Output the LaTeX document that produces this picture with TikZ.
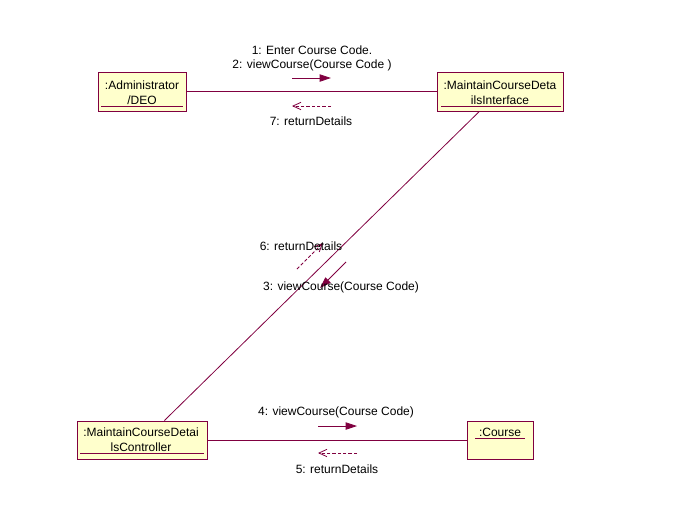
\documentclass[tikz,border=0pt]{standalone}
\usepackage{fontspec}
\setmainfont{Liberation Sans}
\usepackage{tikz}
\usetikzlibrary{arrows.meta}
\usetikzlibrary{positioning}
\definecolor{umlred}{HTML}{800040}
\definecolor{umlfill}{HTML}{FFFFCC}
\tikzset{
    object/.style={
           rectangle,
           draw=umlred, line width=0.75pt,
           fill=umlfill,
           inner sep=0pt,
           },
    objname/.style={
           align=center,
           inner sep=0pt,
           font=\fontsize{9}{11.25}\selectfont,
           },
    msglabel/.style={
           inner sep=0pt,
           font=\fontsize{9}{11}\selectfont,
           },
    link/.style={draw=umlred, line width=0.6pt},
    call/.style={draw=umlred, line width=0.6pt,
           -{Triangle[length=8.5pt,width=5.5pt]}},
    reply/.style={draw=umlred, line width=0.6pt,
           dash pattern=on 2.5pt off 1.5pt,
           -{Straight Barb[length=6pt,width=5.5pt]}},
}

\begin{document}
\begin{tikzpicture}[x=0.75pt, y=-0.75pt]
 \useasboundingbox (0,0) rectangle (673,525);

 % Objects of the collaboration (boxes first, names on top)
 \node[object, minimum width=66pt, minimum height=29.25pt] (ADM) at (142,91.5) {};
 \node[object, minimum width=94.5pt, minimum height=29.25pt] (INT) at (500,91.5) {};
 \node[object, minimum width=97.5pt, minimum height=28.5pt] (CTL) at (142,440) {};
 \node[object, minimum width=49.5pt, minimum height=28.5pt] (CRS) at (500,440) {};

 % names of the objects, underlined as in UML
 \node[objname] (ADMname) at (142,92.5) {:Administrator\\/DEO};
 \node[objname] (INTname) at (500,92.5) {:MaintainCourseDeta\\ilsInterface};
 \node[objname] (CTLname) at (141,439.5) {:MaintainCourseDetai\\lsController};
 \node[objname] (CRSname) at (500,432) {:Course};
 \draw[link] (101,106) -- (183,106);
 \draw[link] (441,106) -- (561,106);
 \draw[link] (80,453) -- (204,453);
 \draw[link] ([xshift=-2.5pt,yshift=-1.5pt]CRSname.south west)
          -- ([xshift=2.5pt,yshift=-1.5pt]CRSname.south east);

 % links between the objects
 \draw[link] (ADM) -- (INT);
 \draw[link] (CTL) -- (CRS);
 \draw[link] (INT.224) -- (CTL.41);

 % message arrows (free ends)
 \coordinate (m1a) at (292,78);   \coordinate (m1b) at (331,78);
 \coordinate (m7a) at (331,106);  \coordinate (m7b) at (292,106);
 \coordinate (m3a) at (346,262);  \coordinate (m3b) at (320,288);
 \coordinate (m6a) at (297,269);  \coordinate (m6b) at (323,243);
 \coordinate (m4a) at (318,426);  \coordinate (m4b) at (357,426);
 \coordinate (m5a) at (357,453);  \coordinate (m5b) at (318,453);
 \draw[call]  (m1a) -- (m1b);
 \draw[reply] (m7a) -- (m7b);
 \draw[call]  (m3a) -- (m3b);
 \draw[reply] (m6a) -- (m6b);
 \draw[call]  (m4a) -- (m4b);
 \draw[reply] (m5a) -- (m5b);

 % message labels
 \node[msglabel] (L1) at (312,50) {1: Enter Course Code.};
 \node[msglabel] (L2) at (312,65) {2: viewCourse(Course Code )};
 \node[msglabel] (L7) at (311,121) {7: returnDetails};
 \node[msglabel] (L6) at (301,246) {6: returnDetails};
 \node[msglabel] (L3) at (341,287) {3: viewCourse(Course Code)};
 \node[msglabel] (L4) at (336,412) {4: viewCourse(Course Code)};
 \node[msglabel] (L5) at (337,469) {5: returnDetails};
\end{tikzpicture}
\end{document}
